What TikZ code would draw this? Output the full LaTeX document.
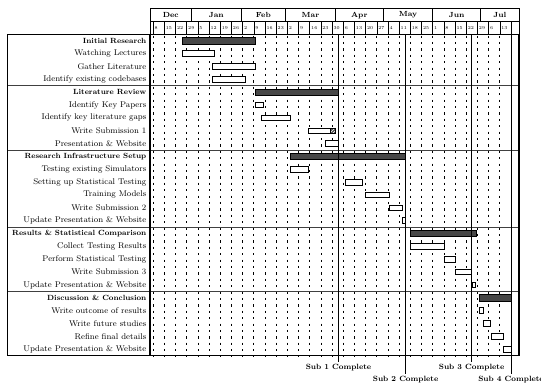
\documentclass[tikz,border=0pt]{standalone}
\usetikzlibrary{patterns}
\newcommand\dayx[1]{150+1.5974*(#1)}
\newcommand\rowy[1]{34.3+12.85*(#1+0.5)}
\tikzset{
  taskbar/.style={draw=black, line width=0.75pt, fill=white},
  grpbar/.style={draw=black, line width=0.6pt, fill=black!72},
  lab/.style={anchor=east, inner sep=0pt, font=\fontsize{8.3}{9}\selectfont},
  glab/.style={anchor=east, inner sep=0pt, font=\fontsize{7.5}{9}\selectfont\bfseries},
  monthlab/.style={inner sep=0pt, font=\fontsize{7.4}{8}\selectfont\bfseries},
  weeklab/.style={anchor=west, inner sep=0pt, font=\fontsize{4.5}{5}\selectfont},
  sublab/.style={inner sep=0pt, font=\fontsize{7.6}{8}\selectfont\bfseries},
  weekgrid/.style={line width=0.8pt, dash pattern=on 2.2pt off 4.2pt},
  sepline/.style={draw=black!75, line width=0.9pt},
  frame/.style={line width=1.3pt},
  milestone/.style={line width=0.8pt}
}
\begin{document}
\begin{tikzpicture}[x=1pt, y=-1pt]
\useasboundingbox (0,0) rectangle (541,388);
% weekly dotted grid
\foreach \k in {0,...,32} {
  \draw[weekgrid] ({\dayx{2+7*\k}},35.5) -- ({\dayx{2+7*\k}},355.6);
}
% group separators
\foreach \r in {4,9,15,20} {
  \draw[sepline] (7.3,{34.3+12.85*\r}) -- (519,{34.3+12.85*\r});
}
% month header
\foreach \a/\b/\m [count=\i] in {0/26/Dec,26/57/Jan,57/85/Feb,85/116/Mar,116/146/Apr,146/177/May,177/207/Jun,207/231/Jul} {
  \draw[line width=0.6pt] ({\dayx{\a}},8.6) rectangle ({\dayx{\b}},21.45);
  \node[monthlab] (m\i) at ({\dayx{(\a+\b)/2}},15.2) {\m};
}
% week header
\draw[line width=0.6pt] ({\dayx{0}},21.45) rectangle ({\dayx{2}},34.3);
\foreach \w [count=\i from 0] in {8,15,22,29,5,12,19,26,2,9,16,23,2,9,16,23,30,6,13,20,27,4,11,18,25,1,8,15,22,29,6,13,{}} {
  \pgfmathsetmacro\sa{2+7*\i}
  \pgfmathsetmacro\sb{min(231,9+7*\i)}
  \draw[line width=0.6pt] ({\dayx{\sa}},21.45) rectangle ({\dayx{\sb}},34.3);
  \node[weeklab] (w\i) at ({\dayx{\sa}+1.3},27.9) {\w};
}
% labels
\foreach \t/\s [count=\i from 0] in {
  Initial Research/g, Watching Lectures/t, Gather Literature/t, Identify existing codebases/t,
  Literature Review/g, Identify Key Papers/t, Identify key literature gaps/t, Write Submission 1/t, Presentation \& Website/t,
  Research Infrastructure Setup/g, Testing existing Simulators/t, Setting up Statistical Testing/t, Training Models/t, Write Submission 2/t, Update Presentation \& Website/t,
  Results \& Statistical Comparison/g, Collect Testing Results/t, Perform Statistical Testing/t, Write Submission 3/t, Update Presentation \& Website/t,
  Discussion \& Conclusion/g, Write outcome of results/t, Write future studies/t, Refine final details/t, Update Presentation \& Website/t} {
  \if g\s
    \node[glab] (l\i) at (146.5,{\rowy{\i}}) {\t};
  \else
    \node[lab] (l\i) at (146.5,{\rowy{\i}}) {\t};
  \fi
}
% bars
\foreach \r/\a/\b in {0/20/66, 4/66/118, 9/88/160, 15/163/204, 20/206/226} {
  \draw[grpbar] ({\dayx{\a}},{\rowy{\r}-3.1}) rectangle ({\dayx{\b}},{\rowy{\r}+3.1});
}
\foreach \r/\a/\b in {1/20/40, 2/39/66, 3/39/60, 5/66/71, 6/70/88, 7/99/112.7, 8/110/118,
  10/88/99, 11/122/133, 12/135/150, 13/150/158, 14/158/160,
  16/163/184, 17/184/191, 18/191/201, 19/202/204,
  21/206/209, 22/209/213, 23/214/221, 24/221/226} {
  \draw[taskbar] ({\dayx{\a}},{\rowy{\r}-2.8}) rectangle ({\dayx{\b}},{\rowy{\r}+2.8});
}
\fill[black!70] ({\dayx{112.7}},{\rowy{7}-2.8}) rectangle ({\dayx{116.3}},{\rowy{7}+2.8});
\fill[pattern=north east lines, pattern color=white] ({\dayx{112.7}},{\rowy{7}-2.8}) rectangle ({\dayx{116.3}},{\rowy{7}+2.8});
\draw[line width=0.75pt] ({\dayx{112.7}},{\rowy{7}-2.8}) rectangle ({\dayx{116.3}},{\rowy{7}+2.8});
% milestones
\node[sublab] (s1) at ({\dayx{118}},367.3) {Sub 1 Complete};
\node[sublab] (s2) at ({\dayx{160}},379.5) {Sub 2 Complete};
\node[sublab] (s3) at ({\dayx{201.3}},367.3) {Sub 3 Complete};
\node[sublab] (s4) at ({\dayx{226}},379.5) {Sub 4 Complete};
\coordinate (t1) at ({\dayx{118}},34.3);
\coordinate (t2) at ({\dayx{160}},34.3);
\coordinate (t3) at ({\dayx{201.3}},34.3);
\coordinate (t4) at ({\dayx{226}},34.3);
\draw[milestone] (t1) -- ([yshift=1.5pt]s1.north -| t1);
\draw[milestone] (t2) -- ([yshift=1.5pt]s2.north -| t2);
\draw[milestone] (t3) -- ([yshift=1.5pt]s3.north -| t3);
\draw[milestone] (t4) -- ([yshift=1.5pt]s4.north -| t4);
% frames
\draw[line width=0.9pt] (7.3,34.3) rectangle (150,355.6);
\draw[frame] (150,34.3) rectangle (519,355.6);
\draw[frame] (7.3,34.3) -- (150,34.3);
\end{tikzpicture}
\end{document}
